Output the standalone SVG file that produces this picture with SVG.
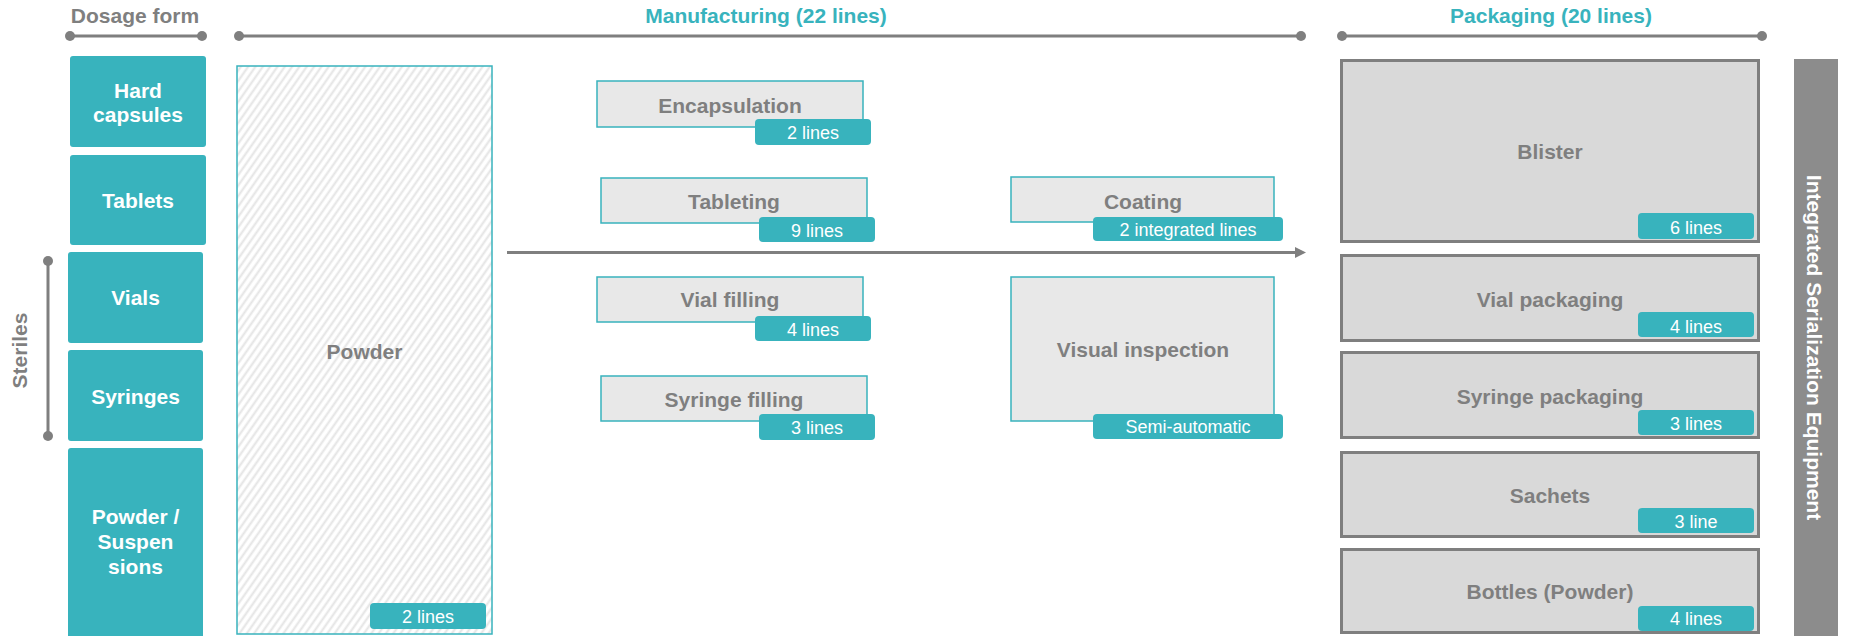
<svg xmlns="http://www.w3.org/2000/svg" width="1851" height="636" viewBox="0 0 1851 636">
<style>
text{font-family:"Liberation Sans",Arial,sans-serif}
.hd{font-size:21px;font-weight:bold;text-anchor:middle}
.gray{fill:#7F7F7F}
.teal{fill:#38B3BD}
.df{fill:#38B3BD}
.dft{fill:#FFFFFF;font-size:21px;font-weight:bold;text-anchor:middle}
.mf{fill:#E8E8E8;stroke:#38B3BD;stroke-width:1.5}
.lbl{fill:#7F7F7F;font-size:21px;font-weight:bold;text-anchor:middle}
.bd{fill:#38B3BD}
.bdt{fill:#FFFFFF;font-size:18px;text-anchor:middle}
.pk{fill:#D9D9D9;stroke:#7F7F7F;stroke-width:3}
.rule{stroke:#7F7F7F;stroke-width:3;fill:none}
.dot{fill:#7F7F7F}
</style>
<defs>
<pattern id="hatch" width="6" height="6" patternUnits="userSpaceOnUse" patternTransform="rotate(35)">
<rect width="6" height="6" fill="#FFFFFF"/>
<line x1="1.5" y1="0" x2="1.5" y2="6" stroke="#E4E4E4" stroke-width="2"/>
</pattern>
</defs>

<g id="headers">
<text class="hd gray" x="135" y="23">Dosage form</text>
<text class="hd teal" x="766" y="23">Manufacturing (22 lines)</text>
<text class="hd teal" x="1551" y="23">Packaging (20 lines)</text>
<line class="rule" x1="70" y1="36" x2="202" y2="36"/>
<circle class="dot" cx="70" cy="36" r="5"/><circle class="dot" cx="202" cy="36" r="5"/>
<line class="rule" x1="239" y1="36" x2="1301" y2="36"/>
<circle class="dot" cx="239" cy="36" r="5"/><circle class="dot" cx="1301" cy="36" r="5"/>
<line class="rule" x1="1342" y1="36" x2="1762" y2="36"/>
<circle class="dot" cx="1342" cy="36" r="5"/><circle class="dot" cx="1762" cy="36" r="5"/>
</g>

<g id="steriles">
<line class="rule" x1="48" y1="261" x2="48" y2="436"/>
<circle class="dot" cx="48" cy="261" r="5"/><circle class="dot" cx="48" cy="436" r="5"/>
<text class="hd gray" transform="translate(27,350.5) rotate(-90)">Steriles</text>
</g>

<g id="df-hard-capsules">
<rect class="df" x="70" y="56" width="136" height="91" rx="3"/>
<text class="dft" x="138" y="98">Hard</text>
<text class="dft" x="138" y="122">capsules</text>
</g>
<g id="df-tablets">
<rect class="df" x="70" y="155" width="136" height="90" rx="3"/>
<text class="dft" x="138" y="208">Tablets</text>
</g>
<g id="df-vials">
<rect class="df" x="68" y="252" width="135" height="91" rx="3"/>
<text class="dft" x="135.5" y="305">Vials</text>
</g>
<g id="df-syringes">
<rect class="df" x="68" y="350" width="135" height="91" rx="3"/>
<text class="dft" x="135.5" y="404">Syringes</text>
</g>
<g id="df-powder">
<rect class="df" x="68" y="448" width="135" height="200" rx="3"/>
<text class="dft" x="135.5" y="524">Powder /</text>
<text class="dft" x="135.5" y="549">Suspen</text>
<text class="dft" x="135.5" y="574">sions</text>
</g>

<g id="powder">
<rect x="237" y="66" width="255" height="568" fill="url(#hatch)" stroke="#38B3BD" stroke-width="1.5"/>
<text class="lbl" x="364.5" y="359">Powder</text>
<rect class="bd" x="370" y="603" width="116" height="26" rx="4"/>
<text class="bdt" x="428" y="623">2 lines</text>
</g>

<g id="connectors">
<line x1="507" y1="252.5" x2="1297" y2="252.5" stroke="#7F7F7F" stroke-width="3"/>
<polygon points="1295,247 1306,252.5 1295,258" fill="#7F7F7F"/>
</g>

<g id="encapsulation">
<rect class="mf" x="597" y="81" width="266" height="46"/>
<text class="lbl" x="730" y="113">Encapsulation</text>
<rect class="bd" x="755" y="119" width="116" height="26" rx="4"/>
<text class="bdt" x="813" y="139">2 lines</text>
</g>
<g id="tableting">
<rect class="mf" x="601" y="178" width="266" height="45"/>
<text class="lbl" x="734" y="209">Tableting</text>
<rect class="bd" x="759" y="217" width="116" height="25" rx="4"/>
<text class="bdt" x="817" y="237">9 lines</text>
</g>
<g id="coating">
<rect class="mf" x="1011" y="177" width="263" height="45"/>
<text class="lbl" x="1143" y="209">Coating</text>
<rect class="bd" x="1093" y="217" width="190" height="24" rx="4"/>
<text class="bdt" x="1188" y="236">2 integrated lines</text>
</g>
<g id="vial-filling">
<rect class="mf" x="597" y="277" width="266" height="45"/>
<text class="lbl" x="730" y="307">Vial filling</text>
<rect class="bd" x="755" y="316" width="116" height="25" rx="4"/>
<text class="bdt" x="813" y="336">4 lines</text>
</g>
<g id="syringe-filling">
<rect class="mf" x="601" y="376" width="266" height="45"/>
<text class="lbl" x="734" y="407">Syringe filling</text>
<rect class="bd" x="759" y="414" width="116" height="26" rx="4"/>
<text class="bdt" x="817" y="434">3 lines</text>
</g>
<g id="visual-inspection">
<rect class="mf" x="1011" y="277" width="263" height="144"/>
<text class="lbl" x="1143" y="357">Visual inspection</text>
<rect class="bd" x="1093" y="414" width="190" height="25" rx="4"/>
<text class="bdt" x="1188" y="433">Semi-automatic</text>
</g>

<g id="blister">
<rect class="pk" x="1341.5" y="60.5" width="417" height="181"/>
<text class="lbl" x="1550" y="159">Blister</text>
<rect class="bd" x="1638" y="213" width="116" height="26" rx="4"/>
<text class="bdt" x="1696" y="234">6 lines</text>
</g>
<g id="vial-packaging">
<rect class="pk" x="1341.5" y="255.5" width="417" height="85"/>
<text class="lbl" x="1550" y="307">Vial packaging</text>
<rect class="bd" x="1638" y="312" width="116" height="25" rx="4"/>
<text class="bdt" x="1696" y="333">4 lines</text>
</g>
<g id="syringe-packaging">
<rect class="pk" x="1341.5" y="352.5" width="417" height="85"/>
<text class="lbl" x="1550" y="404">Syringe packaging</text>
<rect class="bd" x="1638" y="410" width="116" height="25" rx="4"/>
<text class="bdt" x="1696" y="430">3 lines</text>
</g>
<g id="sachets">
<rect class="pk" x="1341.5" y="452.5" width="417" height="84"/>
<text class="lbl" x="1550" y="503">Sachets</text>
<rect class="bd" x="1638" y="508" width="116" height="25" rx="4"/>
<text class="bdt" x="1696" y="528">3 line</text>
</g>
<g id="bottles">
<rect class="pk" x="1341.5" y="549.5" width="417" height="83"/>
<text class="lbl" x="1550" y="599">Bottles (Powder)</text>
<rect class="bd" x="1638" y="606" width="116" height="25" rx="4"/>
<text class="bdt" x="1696" y="625">4 lines</text>
</g>

<g id="serialization">
<rect x="1794" y="59" width="44" height="580" fill="#8C8C8C"/>
<text class="dft" transform="translate(1807,347.5) rotate(90)">Integrated Serialization Equipment</text>
</g>
</svg>
